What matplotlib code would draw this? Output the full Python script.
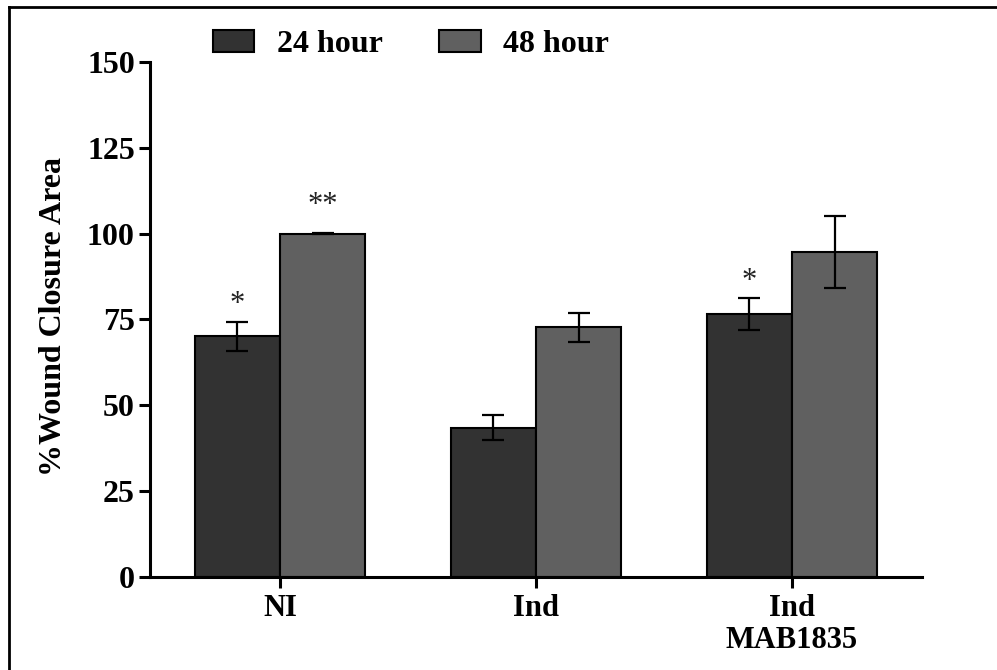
import numpy as np
import matplotlib
matplotlib.use("Agg")
import matplotlib.pyplot as plt
from matplotlib.lines import Line2D

# values
groups = ["NI", "Ind", "Ind\nMAB1835"]
series = ["24 hour", "48 hour"]
mean_24 = [70.1, 43.5, 76.6]
err_24 = [4.2, 3.7, 4.6]
mean_48 = [100.0, 72.7, 94.7]
err_48 = [0.2, 4.2, 10.5]
stars_24 = ["*", "", "*"]
stars_48 = ["**", "", ""]

plt.rcParams["font.family"] = ["Liberation Serif", "DejaVu Serif"]

fig = plt.figure(figsize=(9.97, 6.70), dpi=100)
ax = fig.add_axes([0.1505, 0.1388, 0.7743, 0.7687])

x = np.arange(len(groups))
w = 0.333
col_24 = "#323232"
col_48 = "#606060"

ax.bar(x - w / 2, mean_24, w, color=col_24, edgecolor="black", linewidth=1.5,
       label=series[0], zorder=2)
ax.bar(x + w / 2, mean_48, w, color=col_48, edgecolor="black", linewidth=1.5,
       label=series[1], zorder=2)
ax.errorbar(x - w / 2, mean_24, yerr=err_24, fmt="none", ecolor="black",
            elinewidth=1.6, capsize=8, capthick=1.6, zorder=3)
ax.errorbar(x + w / 2, mean_48, yerr=err_48, fmt="none", ecolor="black",
            elinewidth=1.6, capsize=8, capthick=1.6, zorder=3)

# significance marks above the error bars
for i in range(len(groups)):
    if stars_24[i]:
        ax.text(x[i] - w / 2, mean_24[i] + err_24[i] + 5.0, stars_24[i],
                ha="center", va="center", fontsize=22, color="#222222")
    if stars_48[i]:
        ax.text(x[i] + w / 2, mean_48[i] + err_48[i] + 8.0, stars_48[i],
                ha="center", va="center", fontsize=22, color="#222222")

ax.set_xlim(-0.508, 2.508)
ax.set_ylim(0, 150)
ax.set_yticks(np.arange(0, 151, 25))
ax.set_xticks(x)
ax.set_xticklabels(groups, fontsize=22, fontweight="bold", linespacing=1.15)
for lab in ax.get_yticklabels():
    lab.set_fontsize(23)
    lab.set_fontweight("bold")

ax.spines["top"].set_visible(False)
ax.spines["right"].set_visible(False)
ax.spines["left"].set_linewidth(2.2)
ax.spines["bottom"].set_linewidth(2.2)
ax.tick_params(axis="both", direction="out", length=8, width=2.2)
ax.tick_params(axis="y", pad=3)
ax.tick_params(axis="x", pad=4)

ax.set_ylabel("%Wound Closure Area", fontsize=23, fontweight="bold")
ax.yaxis.set_label_coords(-0.106, 0.505)

ax.legend(loc="center left", bbox_to_anchor=(0.2136, 0.934),
          bbox_transform=fig.transFigure, ncol=2, frameon=False,
          prop={"size": 23, "weight": "bold"}, borderpad=0, borderaxespad=0,
          handlelength=1.3, handleheight=0.69, handletextpad=0.69,
          columnspacing=1.78)

# frame around the picture (only left and top edge show)
fig.add_artist(Line2D([0.009, 0.009], [0.0, 0.99], transform=fig.transFigure,
                      color="black", linewidth=2))
fig.add_artist(Line2D([0.009, 1.0], [0.99, 0.99], transform=fig.transFigure,
                      color="black", linewidth=2))

fig.savefig("out.png", dpi=100)
